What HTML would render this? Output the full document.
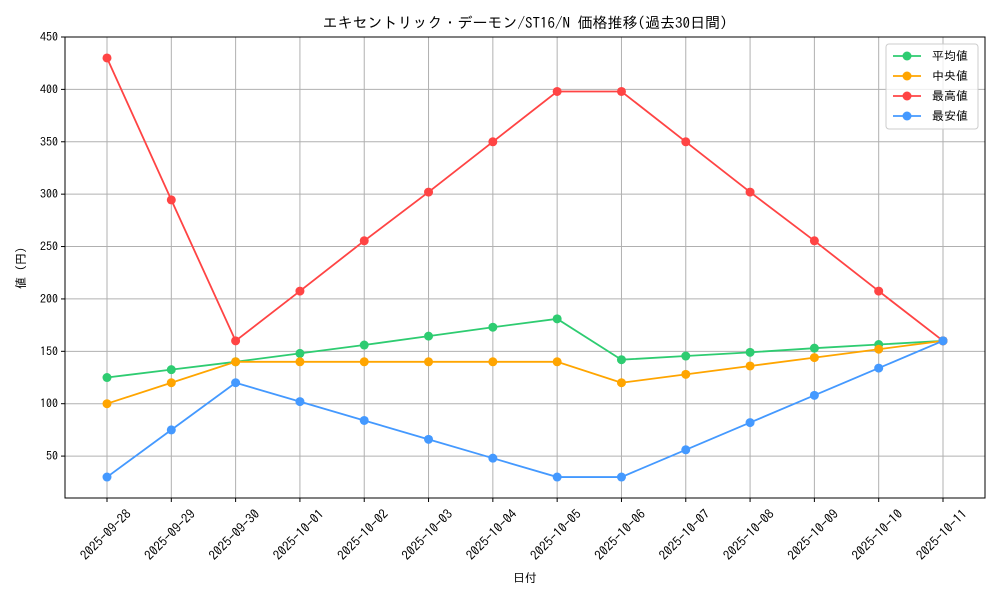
<!DOCTYPE html>
<html><head><meta charset="utf-8"><style>
body{margin:0;background:#fff;}
text{font-family:"IPAGothic","Liberation Sans","Noto Sans CJK JP",sans-serif;fill:#000;}
</style></head><body>
<svg id="c" width="1000" height="600" xmlns="http://www.w3.org/2000/svg"></svg>
<script>
const categories=["2025-09-28","2025-09-29","2025-09-30","2025-10-01","2025-10-02","2025-10-03","2025-10-04","2025-10-05","2025-10-06","2025-10-07","2025-10-08","2025-10-09","2025-10-10","2025-10-11"];
const avgValues=[125,132.5,140,148,156,164.5,173,181,142,145.5,149,153,156.5,160];
const medianValues=[100,120,140,140,140,140,140,140,120,128,136,144,152,160];
const maxValues=[430,294.5,160,207.5,255.5,302,350,398,398,350,302,255.5,207.5,160];
const minValues=[30,75,120,102,84,66,48,30,30,56,82,108,134,160];
const yTicks=[50,100,150,200,250,300,350,400,450];
const seriesNames=["平均値","中央値","最高値","最安値"];
const seriesColors=["#2ecc71","#ffa500","#ff4444","#4499ff"];
const seriesData=[avgValues,medianValues,maxValues,minValues];

const svg=document.getElementById('c');
const NS="http://www.w3.org/2000/svg";
const L=65,R=985,T=37,B=498,yMin=10,yMax=450;
const xs=i=>107+i*(943-107)/(categories.length-1);
const ys=v=>B-(v-yMin)*(B-T)/(yMax-yMin);
function mk(tag,attrs,parent){const e=document.createElementNS(NS,tag);for(const k in attrs)e.setAttribute(k,attrs[k]);(parent||svg).appendChild(e);return e;}

categories.forEach((c,i)=>{
 const g=mk('line',{x1:xs(i),x2:xs(i),y1:T,y2:B,stroke:'#b0b0b0','stroke-width':1});
 
 
});
yTicks.forEach(v=>{
 const g=mk('line',{x1:L,x2:R,y1:ys(v),y2:ys(v),stroke:'#b0b0b0','stroke-width':1});
 
 
});
const fr=mk('rect',{x:L,y:T,width:R-L,height:B-T,fill:'none',stroke:'#000','stroke-width':1});


yTicks.forEach(v=>{
 mk('line',{x1:L-4,x2:L,y1:ys(v),y2:ys(v),stroke:'#000'});
 const t=mk('text',{x:L-7,y:ys(v)+4,'text-anchor':'end','font-size':12});
 t.textContent=v;
 
 
});
categories.forEach((c,i)=>{
 mk('line',{x1:xs(i),x2:xs(i),y1:B,y2:B+4,stroke:'#000'});
 const x=xs(i)-1,y=B+41;
 const t=mk('text',{x:x,y:y,'text-anchor':'middle','font-size':13,transform:`rotate(-45 ${x} ${y-4})`});
 t.textContent=c;
 
 
});
seriesData.forEach((d,s)=>{
 const p=mk('polyline',{points:d.map((v,i)=>xs(i)+','+ys(v)).join(' '),fill:'none',stroke:seriesColors[s],'stroke-width':1.8});
 
 
 d.forEach((v,i)=>{
  const m=mk('circle',{cx:xs(i),cy:ys(v),r:4.5,fill:seriesColors[s]});
  
  
 });
});
let t=mk('text',{x:525,y:28,'text-anchor':'middle','font-size':15});
t.textContent='エキセントリック・デーモン/ST16/N 価格推移(過去30日間)';


t=mk('text',{x:525,y:582,'text-anchor':'middle','font-size':12});
t.textContent='日付';


t=mk('text',{x:25,y:268,'text-anchor':'middle','font-size':12,transform:'rotate(-90 25 268)'});
t.textContent='値 (円)';


const lg=mk('rect',{x:886,y:44,width:92,height:85,rx:3,fill:'#fff','fill-opacity':0.8,stroke:'#ccc'});


seriesNames.forEach((n,s)=>{
 const y=56+s*20;
 mk('line',{x1:893,x2:921,y1:y,y2:y,stroke:seriesColors[s],'stroke-width':1.8});
 mk('circle',{cx:907,cy:y,r:4.5,fill:seriesColors[s]});
 const tx=mk('text',{x:932,y:y+4,'font-size':12});
 tx.textContent=n;
 
 
});
</script>
</body></html>
